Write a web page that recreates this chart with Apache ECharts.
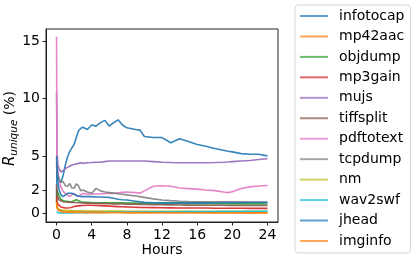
<!DOCTYPE html>
<html>
<head>
<meta charset="utf-8">
<script src="https://cdn.jsdelivr.net/npm/echarts@6/dist/echarts.min.js"></script>
<style>
html,body{margin:0;padding:0;background:#fff;}
#chart{width:415px;height:262px;}
</style>
</head>
<body>
<div id="chart"></div>
<script>
const hours = [0, 0.05, 0.15, 0.3, 0.5, 0.75, 1, 1.25, 1.5, 1.75, 2, 2.25, 2.5, 2.75, 3, 3.5, 4, 4.5, 5, 5.5, 6, 6.5, 7, 7.5, 8, 9, 9.5, 10, 11, 12, 13, 14, 15, 16, 17, 18, 19, 19.5, 20, 21, 22, 23, 24];

const infotocap = [1.5, 4.2, 3.4, 2.9, 2.7, 3.3, 4.2, 4.9, 5.4, 5.7, 6.0, 6.6, 7.2, 7.4, 7.5, 7.3, 7.7, 7.6, 7.9, 8.1, 7.6, 7.9, 8.15, 7.7, 7.45, 7.3, 7.25, 6.7, 6.6, 6.6, 6.15, 6.5, 6.25, 6.0, 5.85, 5.65, 5.5, 5.4, 5.35, 5.2, 5.15, 5.15, 5.0];
const mp42aac = [1.2, 0.6, 0.4, 0.3, 0.25, 0.22, 0.2, 0.2, 0.18, 0.18, 0.17, 0.17, 0.16, 0.16, 0.15, 0.15, 0.14, 0.14, 0.13, 0.13, 0.12, 0.12, 0.12, 0.11, 0.11, 0.1, 0.1, 0.1, 0.09, 0.09, 0.08, 0.08, 0.08, 0.07, 0.07, 0.07, 0.06, 0.06, 0.06, 0.06, 0.05, 0.05, 0.05];
const objdump = [1.0, 2.0, 1.9, 1.5, 1.2, 1.1, 1.05, 1.05, 1.0, 1.0, 1.1, 1.18, 1.1, 1.0, 0.95, 0.95, 0.93, 0.92, 0.92, 0.9, 0.9, 0.9, 0.9, 0.9, 0.88, 0.88, 0.88, 0.87, 0.86, 0.86, 0.85, 0.85, 0.84, 0.84, 0.83, 0.83, 0.83, 0.82, 0.82, 0.82, 0.82, 0.82, 0.81];
const mp3gain = [1.5, 1.0, 0.8, 0.65, 0.55, 0.5, 0.45, 0.45, 0.48, 0.52, 0.58, 0.62, 0.64, 0.66, 0.68, 0.7, 0.7, 0.68, 0.66, 0.64, 0.62, 0.6, 0.58, 0.56, 0.55, 0.52, 0.5, 0.5, 0.49, 0.48, 0.47, 0.46, 0.46, 0.45, 0.45, 0.44, 0.44, 0.43, 0.43, 0.43, 0.42, 0.42, 0.42];
const mujs = [10.5, 5.5, 4.2, 3.9, 3.6, 3.7, 3.9, 4.0, 4.1, 4.2, 4.25, 4.3, 4.35, 4.4, 4.35, 4.4, 4.42, 4.45, 4.45, 4.5, 4.55, 4.55, 4.55, 4.55, 4.55, 4.55, 4.55, 4.55, 4.5, 4.45, 4.42, 4.4, 4.4, 4.4, 4.4, 4.42, 4.45, 4.47, 4.5, 4.55, 4.6, 4.68, 4.75];
const tiffsplit = [2.5, 1.8, 1.4, 1.15, 1.05, 1.0, 0.98, 0.97, 0.96, 0.95, 0.94, 0.93, 0.92, 0.91, 0.9, 0.88, 0.87, 0.86, 0.85, 0.84, 0.83, 0.82, 0.81, 0.8, 0.79, 0.78, 0.77, 0.76, 0.75, 0.74, 0.73, 0.72, 0.71, 0.7, 0.7, 0.69, 0.69, 0.68, 0.68, 0.68, 0.67, 0.67, 0.67];
const pdftotext = [15.4, 4.5, 3.6, 2.9, 2.3, 1.9, 1.74, 1.6, 1.45, 1.6, 1.74, 1.55, 1.45, 1.6, 1.74, 1.65, 1.7, 1.65, 1.7, 1.72, 1.75, 1.72, 1.78, 1.82, 1.85, 1.8, 1.75, 1.95, 2.35, 2.4, 2.35, 2.2, 2.15, 2.1, 2.02, 1.97, 1.85, 1.8, 1.88, 2.15, 2.3, 2.38, 2.42];
const tcpdump = [4.5, 3.5, 3.1, 2.9, 2.7, 2.75, 2.4, 2.35, 2.6, 2.2, 2.2, 2.55, 2.4, 1.95, 2.03, 1.85, 1.75, 2.17, 1.95, 1.85, 1.8, 1.75, 1.7, 1.65, 1.6, 1.5, 1.45, 1.38, 1.25, 1.16, 1.1, 1.05, 1.02, 1.0, 1.0, 1.0, 1.0, 1.0, 1.0, 0.99, 0.98, 0.98, 0.98];
const nm = [0.8, 0.5, 0.35, 0.3, 0.28, 0.26, 0.25, 0.24, 0.23, 0.23, 0.22, 0.22, 0.21, 0.21, 0.2, 0.2, 0.2, 0.19, 0.19, 0.19, 0.18, 0.18, 0.18, 0.18, 0.17, 0.17, 0.17, 0.17, 0.16, 0.16, 0.16, 0.16, 0.16, 0.15, 0.15, 0.15, 0.15, 0.15, 0.15, 0.15, 0.15, 0.15, 0.15];
const wav2swf = [0.1, 0.05, 0.03, 0.02, 0.02, 0.02, 0.02, 0.03, 0.03, 0.03, 0.04, 0.04, 0.04, 0.05, 0.05, 0.05, 0.06, 0.06, 0.07, 0.07, 0.08, 0.08, 0.09, 0.09, 0.1, 0.1, 0.11, 0.11, 0.12, 0.12, 0.13, 0.13, 0.14, 0.14, 0.15, 0.15, 0.16, 0.16, 0.16, 0.17, 0.17, 0.17, 0.17];
const jhead = [5.0, 4.0, 2.8, 2.0, 1.6, 1.45, 1.6, 1.74, 1.74, 1.74, 1.65, 1.55, 1.5, 1.47, 1.45, 1.45, 1.45, 1.42, 1.42, 1.4, 1.38, 1.3, 1.22, 1.18, 1.15, 1.05, 1.0, 0.95, 0.92, 0.9, 0.9, 0.9, 0.9, 0.9, 0.9, 0.91, 0.91, 0.92, 0.92, 0.92, 0.93, 0.93, 0.93];
const imginfo = [1.0, 0.5, 0.3, 0.2, 0.15, 0.12, 0.1, 0.09, 0.08, 0.08, 0.07, 0.07, 0.06, 0.06, 0.06, 0.05, 0.05, 0.05, 0.05, 0.04, 0.04, 0.04, 0.04, 0.04, 0.03, 0.03, 0.03, 0.03, 0.03, 0.03, 0.03, 0.02, 0.02, 0.02, 0.02, 0.02, 0.02, 0.02, 0.02, 0.02, 0.02, 0.02, 0.02];

const seriesNames = ['infotocap','mp42aac','objdump','mp3gain','mujs','tiffsplit','pdftotext','tcpdump','nm','wav2swf','jhead','imginfo'];
const seriesValues = [infotocap, mp42aac, objdump, mp3gain, mujs, tiffsplit, pdftotext, tcpdump, nm, wav2swf, jhead, imginfo];
const colors = ['#1f77b4','#ff7f0e','#2ca02c','#d62728','#9467bd','#8c564b','#e377c2','#7f7f7f','#bcbd22','#17becf','#1f77b4','#ff7f0e'];

const xTicks = [0, 4, 8, 12, 16, 20, 24];
const yTicks = [0, 2, 5, 10, 15];

const FONT = 'DejaVu Sans';
const chart = echarts.init(document.getElementById('chart'), null, {renderer: 'canvas'});

const series = seriesNames.map((name, k) => ({
  name: name,
  type: 'line',
  symbol: 'none',
  data: hours.map((h, i) => [h, seriesValues[k][i]]),
  lineStyle: {width: 1.6, color: colors[k], opacity: 0.9},
  itemStyle: {color: colors[k], opacity: 0.7},
  emphasis: {disabled: true}
}));

chart.setOption({
  animation: false,
  color: colors,
  grid: {left: 46, top: 29, width: 232, height: 193, show: true, borderColor: '#222', borderWidth: 1, backgroundColor: 'transparent', containLabel: false, outerBoundsMode: 'none'},
  xAxis: {
    type: 'value', min: -1.2, max: 25.2,
    splitLine: {show: false},
    axisLine: {show: true, onZero: false, lineStyle: {color: '#222', width: 1}},
    axisTick: {show: true, customValues: xTicks, length: 3.5, lineStyle: {color: '#222'}},
    axisLabel: {customValues: xTicks, fontSize: 14, color: '#000', margin: 6, fontFamily: FONT},
    name: 'Hours', nameLocation: 'middle', nameGap: 21, nameMoveOverlap: false,
    nameTextStyle: {fontSize: 14, color: '#000', fontFamily: FONT}
  },
  yAxis: {
    type: 'value', min: -0.765, max: 16.07,
    splitLine: {show: false},
    axisLine: {show: true, onZero: false, lineStyle: {color: '#222', width: 1}},
    axisTick: {show: true, customValues: yTicks, length: 3.5, lineStyle: {color: '#222'}},
    axisLabel: {customValues: yTicks, fontSize: 14, color: '#000', margin: 6, fontFamily: FONT},
    name: '{r|R}{s|unique}{n| (%)}', nameLocation: 'middle', nameGap: 26, nameRotate: 90, nameMoveOverlap: false,
    nameTextStyle: {
      fontSize: 14, color: '#000', fontFamily: FONT, padding: [0, 6, 0, 0],
      rich: {
        r: {fontSize: 15, fontStyle: 'italic', fontFamily: FONT, color: '#000', lineHeight: 17, verticalAlign: 'top'},
        s: {fontSize: 10.5, fontStyle: 'italic', fontFamily: FONT, color: '#000', lineHeight: 17, verticalAlign: 'bottom'},
        n: {fontSize: 14, fontFamily: FONT, color: '#000', lineHeight: 17, verticalAlign: 'top'}
      }
    }
  },
  legend: {
    orient: 'vertical', left: 295, top: 5,
    icon: 'rect',
    itemWidth: 28, itemHeight: 2, itemGap: 6.45,
    padding: [4, 6, 5, 5],
    borderColor: '#d6d6d6', borderWidth: 1, borderRadius: 3, backgroundColor: '#fff',
    textStyle: {fontSize: 14, color: '#000', fontFamily: FONT, padding: [0, 0, 0, 6], lineHeight: 14},
    data: seriesNames
  },
  series: series
});
</script>
</body>
</html>
